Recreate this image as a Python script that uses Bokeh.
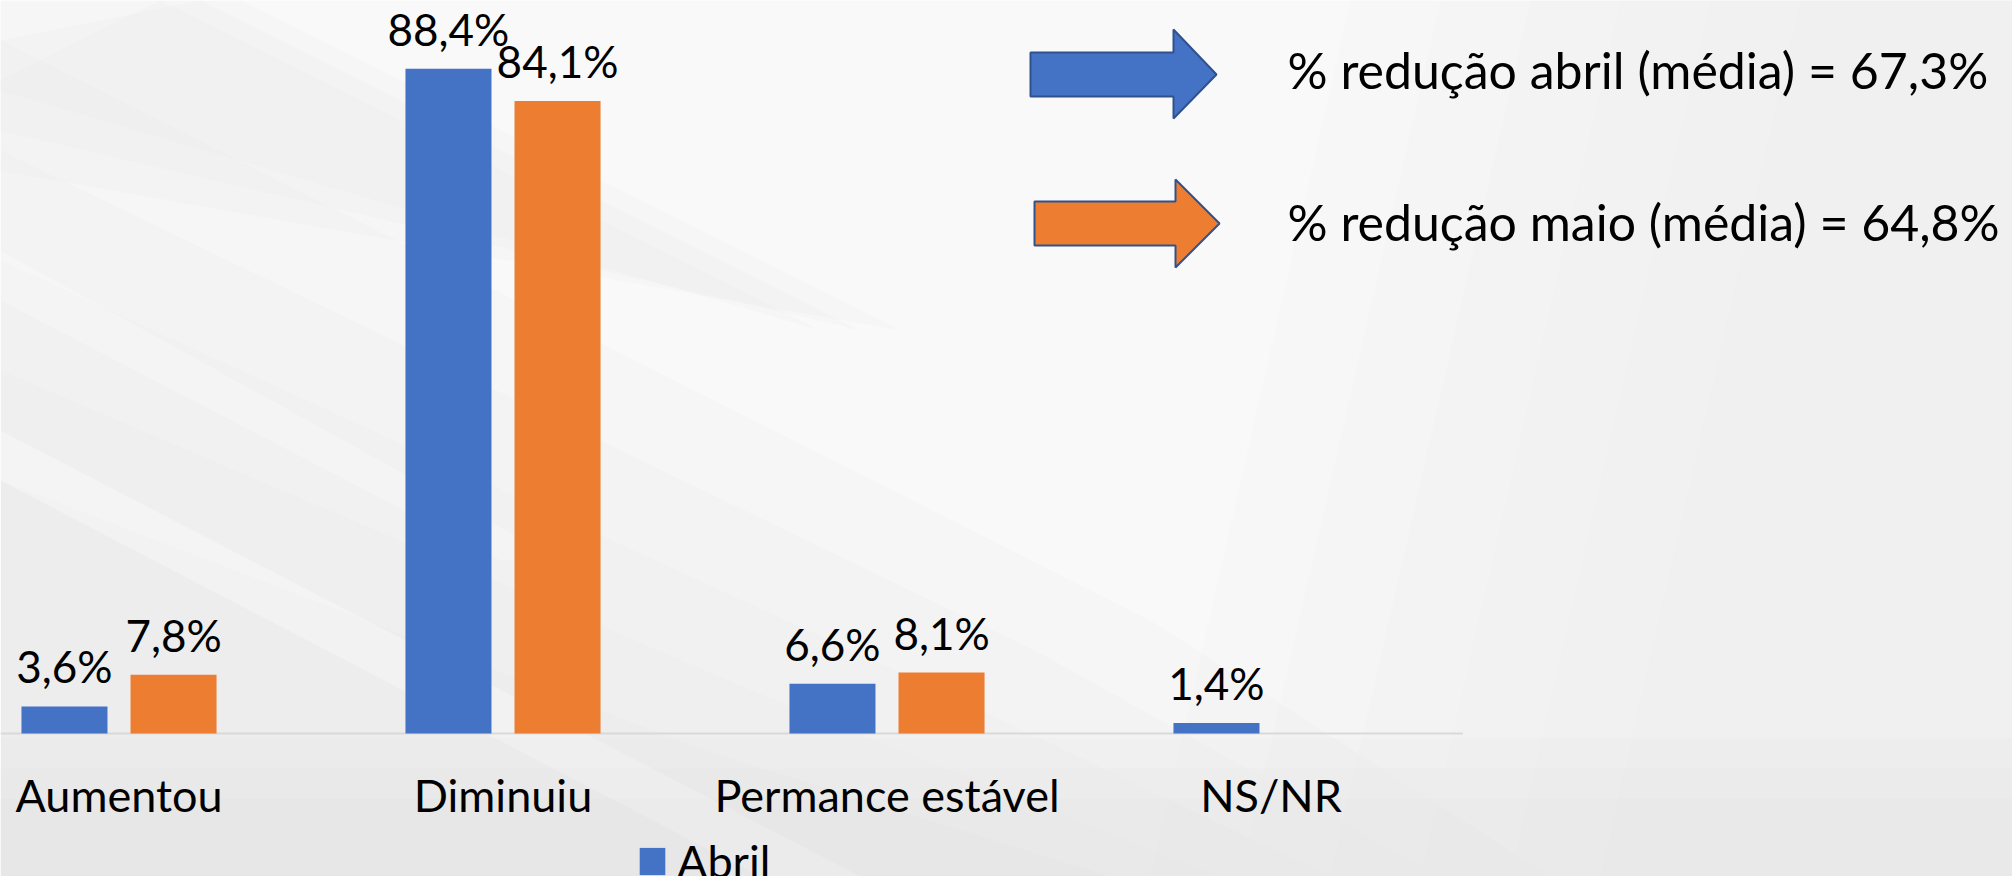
from bokeh.plotting import figure
from bokeh.models import Legend, LegendItem, Range1d
from bokeh.core.properties import value
from bokeh.embed import file_html
from bokeh.resources import INLINE
import math

# ---------------- data ----------------
categories = ["Aumentou", "Diminuiu", "Permance estável", "NS/NR"]
abril = [3.6, 88.4, 6.6, 1.4]
maio = [7.8, 84.1, 8.1, float("nan")]
series_names = ["Abril", "Maio"]
media_reducao = [67.3, 64.8]
media_meses = ["abril", "maio"]


def fmt(v):
    return f"{v:.1f}".replace(".", ",") + "%"


# ---------------- layout constants (pixels) ----------------
W, H = 2012, 876
CAT_PX = 384.0          # width of one category
X0_PX = 118.5           # centre of first category from left of figure
BASE_PX = 733.0         # baseline from top of figure
PPU = 7.52              # pixels per percentage point
x_start = -X0_PX / CAT_PX
x_end = x_start + W / CAT_PX
y_end = BASE_PX / PPU
y_start = -(H - BASE_PX) / PPU


def px(fx, fy):
    """figure pixel (from top-left) -> data coords."""
    return x_start + fx / CAT_PX, (BASE_PX - fy) / PPU


def poly(points):
    xs, ys = zip(*[px(a, b) for a, b in points])
    return list(xs), list(ys)


BLUE = "#4472C4"
ORANGE = "#ED7D31"
FONT = value("Lato")

p = figure(width=W, height=H, output_backend="svg", toolbar_location=None,
           x_range=Range1d(x_start, x_end), y_range=Range1d(y_start, y_end),
           min_border=0)
p.axis.visible = False
p.grid.visible = False
p.outline_line_color = None
p.background_fill_color = "#f9f9f9"
p.border_fill_color = "#f9f9f9"

# ---------------- background decoration (soft slide backdrop) ----------------
bg_shapes = []
# soft gray toward the lower-left, layered for a gradient feel
for k in range(5):
    d = 110 * k
    bg_shapes.append(([(0, 40 + d), (1150 - d, 620 + d * 0.3), (1550 - d, 876), (0, 876)], "#dcdcdc", 0.09))
# gray streaks top-left
for k in range(3):
    d = 40 * k
    bg_shapes.append(([(0, 0 + d), (240 - d, 0), (900 - d, 330), (0, 170 - d)], "#d4d4d4", 0.08))
# white streaks on the left
bg_shapes.append(([(0, 430), (0, 480), (760, 876), (860, 876)], "#ffffff", 0.3))
bg_shapes.append(([(0, 250), (0, 300), (500, 560), (560, 560)], "#ffffff", 0.25))
# gray gradient on the right side
for k in range(6):
    d = 90 * k
    bg_shapes.append(([(1350 + d, 0), (2012, 0), (2012, 876), (1150 + d, 876)], "#e2e2e2", 0.08))
# slightly darker band below the axis
for k in range(3):
    d = 30 * k
    bg_shapes.append(([(0, 738 + d), (2012, 738 + d), (2012, 876), (0, 876)], "#e0e0e0", 0.12))

for pts, col, a in bg_shapes:
    xs, ys = poly(pts)
    p.patch(xs, ys, fill_color=col, fill_alpha=a, line_color=None)

# ---------------- baseline ----------------
p.segment(x0=[x_start], y0=[0], x1=[len(categories) - 0.5], y1=[0],
          line_color="#d9d9d9", line_width=2)

# ---------------- bars ----------------
OFF = 0.142
BW = 0.224
xa = [i - OFF for i in range(len(categories))]
xm = [i + OFF for i in range(len(categories))]
r_abril = p.vbar(x=xa, top=abril, width=BW, fill_color=BLUE, line_color=None)
mx = [x for x, v in zip(xm, maio) if not math.isnan(v)]
mv = [v for v in maio if not math.isnan(v)]
r_maio = p.vbar(x=mx, top=mv, width=BW, fill_color=ORANGE, line_color=None)

# value labels
lab_kw = dict(text_align="center", text_baseline="alphabetic", y_offset=-40,
              text_font=FONT, text_font_size="44px", text_color="#000000")
p.text(x=xa, y=abril, text=[fmt(v) for v in abril], **lab_kw)
p.text(x=mx, y=mv, text=[fmt(v) for v in mv], **lab_kw)

# category labels
p.text(x=list(range(len(categories))), y=[0] * len(categories), text=categories,
       text_align="center", text_baseline="alphabetic", y_offset=61,
       text_font=FONT, text_font_size="45px", text_color="#000000")

# ---------------- arrows + average texts ----------------
arrows = [
    ([(1030, 52), (1173, 52), (1173, 29), (1216, 74), (1173, 118), (1173, 96), (1030, 96)], BLUE),
    ([(1034, 201), (1175, 201), (1175, 179), (1219, 223), (1175, 267), (1175, 245), (1034, 245)], ORANGE),
]
for pts, col in arrows:
    xs, ys = poly(pts)
    p.patch(xs, ys, fill_color=col, line_color="#2F528F", line_width=2)

tx, ty = zip(*[px(1287, 88), px(1287, 240)])
p.text(x=list(tx), y=list(ty),
       text=[f"% redução {m} (média) = {fmt(v)}" for m, v in zip(media_meses, media_reducao)],
       text_align="left", text_baseline="alphabetic", y_offset=-19,
       text_font=FONT, text_font_size="50px", text_color="#000000")

# ---------------- legend ----------------
legend = Legend(items=[LegendItem(label=series_names[0], renderers=[r_abril])],
                location=(636, -12), orientation="horizontal",
                glyph_width=32, glyph_height=34, label_standoff=9,
                label_text_font="Lato", label_text_font_size="45px",
                label_text_color="#000000",
                padding=0, margin=0, spacing=0,
                background_fill_alpha=0, border_line_alpha=0)
p.add_layout(legend)

open("out.html", "w").write(file_html(p, INLINE))
